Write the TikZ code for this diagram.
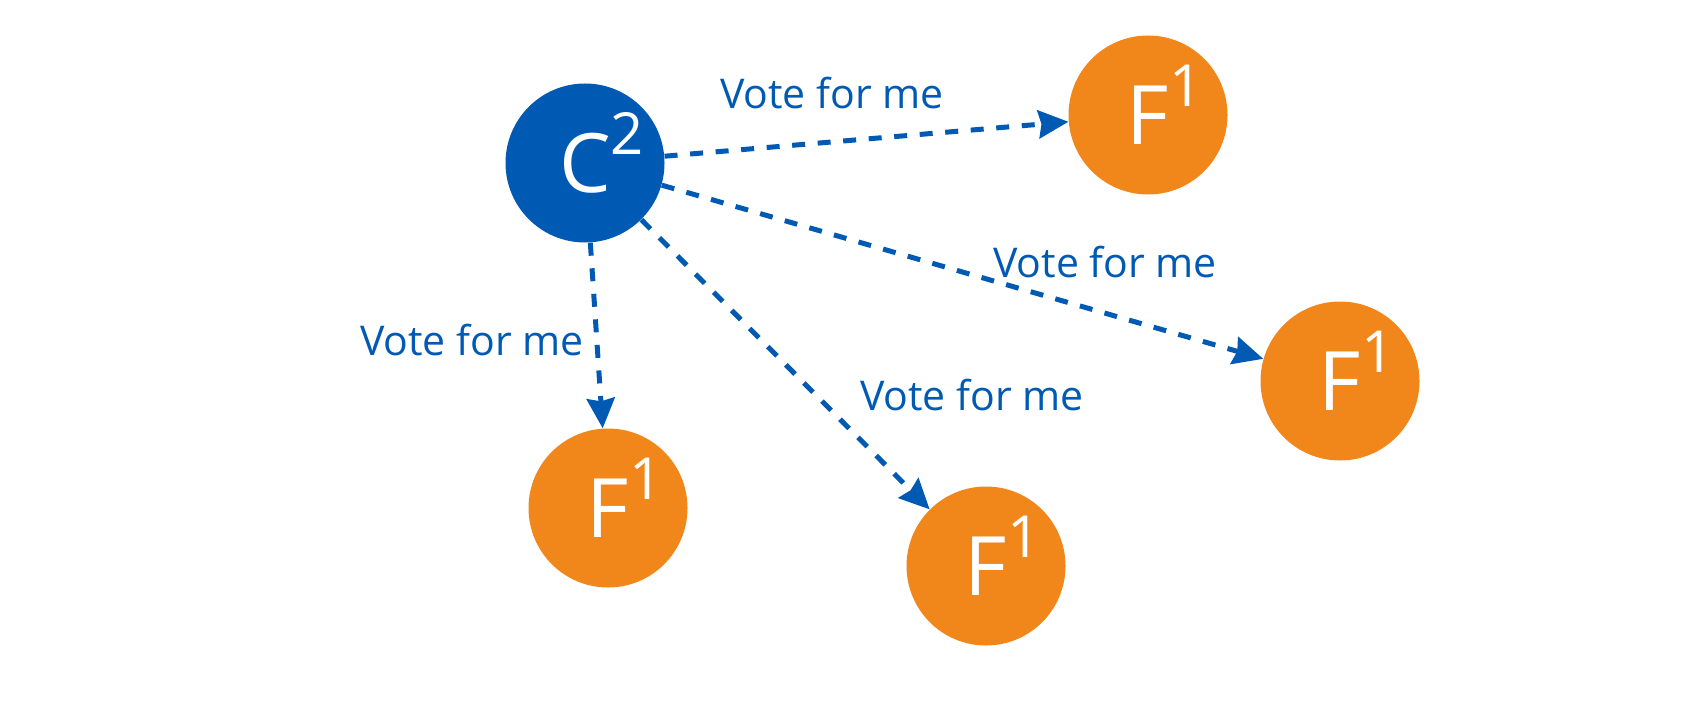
\documentclass[tikz,border=0pt]{standalone}
\usepackage{fontspec}
\setmainfont{Open Sans}
\usetikzlibrary{arrows.meta}
\definecolor{voteblue}{RGB}{0,90,180}
\definecolor{voteorange}{RGB}{241,135,26}
\newcommand{\rank}[2]{#1\rlap{\smash{\raisebox{19pt}{\fontsize{29}{29}\selectfont #2}}}}

\begin{document}
\begin{tikzpicture}[x=0.5pt,y=-0.5pt,line join=round,
	cand/.style={circle,fill=voteblue,text=white,minimum size=79.5pt,inner sep=0pt,font=\fontsize{41}{41}\selectfont},
	foll/.style={cand,fill=voteorange},
	ask/.style={draw=voteblue,line width=2.5pt,dash pattern=on 6.5pt off 6.3pt,-{Stealth[length=15pt,width=14pt,inset=1.5pt]}},
	asktext/.style={text=voteblue,anchor=base,inner sep=0pt,font=\fontsize{20.5}{20.5}\selectfont}]
	\useasboundingbox (0,0) rectangle (1700,706);
	% candidate and followers
	\node[cand] (c2) at (585,163) {\rank{C}{2}};
	\node[foll] (f1) at (1148,115) {\rank{F}{1}};
	\node[foll] (f2) at (1340,381) {\rank{F}{1}};
	\node[foll] (f3) at (986,566) {\rank{F}{1}};
	\node[foll] (f4) at (608,508) {\rank{F}{1}};
	% vote requests
	\draw[ask] (c2) -- (f1);
	\draw[ask] (c2) -- (f2);
	\draw[ask] (c2) -- (f3);
	\draw[ask] (c2) -- (f4);
	\node[asktext] (v1) at (832,108) {Vote for me};
	\node[asktext] (v2) at (1105,277) {Vote for me};
	\node[asktext] (v3) at (972,410) {Vote for me};
	\node[asktext] (v4) at (472,355) {Vote for me};
\end{tikzpicture}
\end{document}
